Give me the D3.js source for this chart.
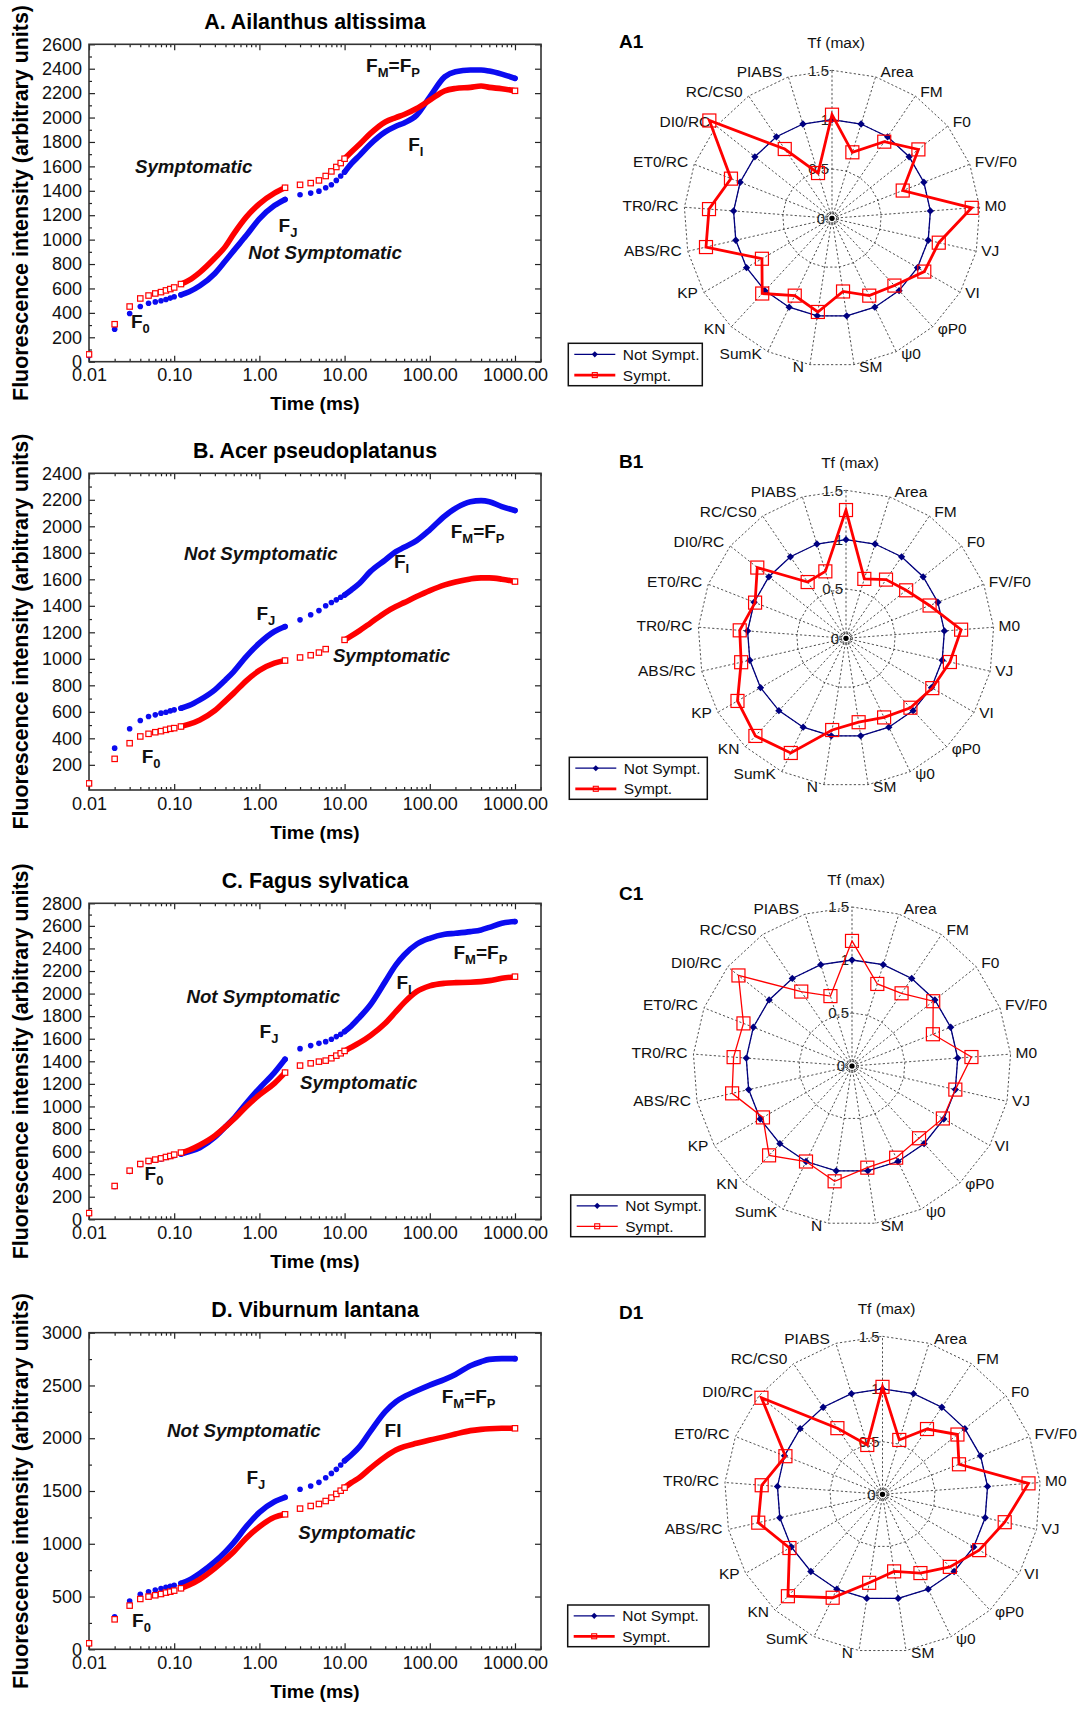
<!DOCTYPE html>
<html>
<head>
<meta charset="utf-8">
<script src="https://cdn.jsdelivr.net/npm/d3@7"></script>
<style>
  body { margin: 0; background: #fff; }
  svg text { font-family: "Liberation Sans", Arial, Helvetica, sans-serif; }
</style>
</head>
<body>
<svg id="fig" width="1089" height="1709"></svg>
<script>
// ---- OJIP transients: time (ms) and fluorescence ----
const times = [0.01, 0.02, 0.03, 0.04, 0.05, 0.06, 0.07, 0.08, 0.09, 0.1, 0.12, 0.15, 0.2, 0.3, 0.4, 0.5, 0.7, 1, 1.5, 2,
  3, 4, 5, 6, 7, 8, 9, 10, 12, 15, 20, 30, 40, 50, 70, 100, 150, 200, 300, 400, 500, 700, 1000];

const aNot = [50, 266, 395, 452, 479, 490, 499, 510, 521, 532, 548, 573, 622, 723, 827, 910, 1033, 1170, 1279, 1329,
  1367, 1381, 1397, 1425, 1449, 1485, 1521, 1553, 1622, 1690, 1781, 1882, 1929, 1956, 2019, 2170, 2334, 2375, 2389, 2389, 2381, 2356, 2321];
const aSym = [60, 307, 452, 518, 542, 559, 570, 584, 595, 608, 636, 668, 732, 849, 945, 1047, 1184, 1293, 1381, 1425,
  1449, 1463, 1485, 1521, 1559, 1595, 1627, 1663, 1718, 1781, 1868, 1964, 2000, 2025, 2074, 2142, 2219, 2238, 2247, 2258, 2247, 2236, 2219];

const bNot = [60, 326, 472, 534, 565, 577, 590, 597, 607, 615, 627, 648, 690, 766, 841, 904, 1017, 1118, 1206, 1243,
  1294, 1332, 1364, 1400, 1425, 1445, 1465, 1482, 1520, 1570, 1658, 1746, 1809, 1842, 1892, 1973, 2078, 2136, 2186, 2194, 2186, 2149, 2119];
const bSym = [60, 245, 363, 414, 434, 446, 454, 464, 472, 477, 489, 507, 539, 610, 683, 741, 834, 912, 967, 987,
  1010, 1027, 1047, 1073, null, null, null, 1143, 1173, 1213, 1269, 1349, 1394, 1424, 1470, 1515, 1558, 1580, 1603, 1611, 1611, 1601, 1583];

const cNot = [55, 290, 425, 485, 512, 524, 535, 547, 556, 566, 579, 600, 635, 727, 821, 895, 1028, 1161, 1300, 1418,
  1512, 1539, 1559, 1574, 1595, 1619, 1639, 1663, 1713, 1790, 1899, 2106, 2254, 2342, 2437, 2490, 2525, 2534, 2549, 2564, 2587, 2623, 2638];
const cSym = [55, 295, 431, 490, 517, 529, 540, 552, 561, 573, 591, 614, 659, 741, 821, 886, 998, 1102, 1205, 1300,
  1362, 1382, 1397, 1406, 1427, 1450, 1471, 1492, 1524, 1565, 1627, 1737, 1840, 1920, 2017, 2068, 2091, 2097, 2100, 2106, 2115, 2135, 2150];

const dNot = [60, 309, 458, 521, 546, 562, 575, 587, 597, 606, 625, 657, 720, 830, 925, 1011, 1162, 1298, 1399, 1440,
  1516, 1547, 1582, 1626, 1667, 1705, 1746, 1787, 1841, 1920, 2062, 2252, 2346, 2394, 2450, 2504, 2558, 2605, 2687, 2725, 2747, 2754, 2754];
const dSym = [57, 284, 414, 477, 499, 512, 524, 537, 546, 556, 578, 609, 663, 767, 853, 925, 1052, 1162, 1251, 1279,
  1333, 1358, 1377, 1405, 1437, 1472, 1503, 1532, 1579, 1629, 1715, 1825, 1888, 1920, 1952, 1983, 2015, 2040, 2072, 2084, 2090, 2094, 2094];

const xTicks = [0.01, 0.1, 1, 10, 100, 1000];
const yTicksA = [0, 200, 400, 600, 800, 1000, 1200, 1400, 1600, 1800, 2000, 2200, 2400, 2600];
const yTicksB = [200, 400, 600, 800, 1000, 1200, 1400, 1600, 1800, 2000, 2200, 2400];
const yTicksC = [0, 200, 400, 600, 800, 1000, 1200, 1400, 1600, 1800, 2000, 2200, 2400, 2600, 2800];
const yTicksD = [0, 500, 1000, 1500, 2000, 2500, 3000];

// ---- radar plots: JIP-test parameters, Sympt. normalised to Not Sympt. ----
const radarAxes = ["Tf (max)", "Area", "FM", "F0", "FV/F0", "M0", "VJ", "VI", "\u03c6P0", "\u03c80", "SM", "N",
  "SumK", "KN", "KP", "ABS/RC", "TR0/RC", "ET0/RC", "DI0/RC", "RC/CS0", "PIABS"];
const notSympt = [1, 1, 1, 1, 1, 1, 1, 1, 1, 1, 1, 1, 1, 1, 1, 1, 1, 1, 1, 1, 1];
const a1Sym = [1.05, 0.70, 0.94, 1.12, 0.77, 1.42, 1.11, 1.08, 0.93, 0.87, 0.75, 0.96, 0.87, 1.04, 0.82, 1.31, 1.25, 1.10, 1.59, 0.85, 0.48];
const b1Sym = [1.30, 0.63, 0.72, 0.78, 0.91, 1.17, 1.08, 1.01, 0.96, 0.89, 0.86, 0.94, 1.29, 1.35, 1.27, 1.09, 1.08, 0.99, 1.15, 0.69, 0.71];
const c1Sym = [1.18, 0.81, 0.83, 0.98, 0.82, 1.13, 1.00, 0.99, 0.93, 0.96, 0.97, 1.10, 1.00, 1.15, 0.97, 1.16, 1.12, 1.10, 1.37, 0.85, 0.69];
const d1Sym = [1.02, 0.54, 0.75, 0.91, 0.78, 1.39, 1.19, 1.06, 0.94, 0.83, 0.74, 0.85, 1.09, 1.32, 1.02, 1.21, 1.15, 0.99, 1.47, 0.76, 0.49];
const ringValues = [0, 0.5, 1, 1.5];
const ringLabels = ["0", "0.5", "1", "1.5"];

const BLUE = "#0b0bf0";
const RED = "#ff0000";
const NAVY = "#000080";

const svg = d3.select("#fig");

// x scale shared by all four transient panels
const plotLeft = 89, plotRight = 541;
const x = d3.scaleLog().domain([0.01, 2020]).range([plotLeft, plotRight]);
const midX = 315;

const panels = [
  { id: "A", title: "A. Ailanthus altissima", titleY: 29.3, top: 44.3, bottom: 361.7, yDomain: [0, 2600], yTicks: yTicksA,
    not: aNot, sym: aSym,
    notes: [
      { x: 135, y: 172.7, parts: [["Symptomatic"]], italic: true },
      { x: 248.2, y: 259.3, parts: [["Not Symptomatic"]], italic: true },
      { x: 131, y: 328.3, parts: [["F"], ["0", 1]] },
      { x: 278.6, y: 231.7, parts: [["F"], ["J", 1]] },
      { x: 408.2, y: 150.7, parts: [["F"], ["I", 1]] },
      { x: 366.1, y: 71.7, parts: [["F"], ["M", 1], ["=F"], ["P", 1]] }
    ] },
  { id: "B", title: "B. Acer pseudoplatanus", titleY: 458.3, top: 473.3, bottom: 790, yDomain: [10, 2400], yTicks: yTicksB,
    not: bNot, sym: bSym,
    notes: [
      { x: 184, y: 560, parts: [["Not Symptomatic"]], italic: true },
      { x: 332.9, y: 661.7, parts: [["Symptomatic"]], italic: true },
      { x: 141.7, y: 763.3, parts: [["F"], ["0", 1]] },
      { x: 256.4, y: 620, parts: [["F"], ["J", 1]] },
      { x: 394, y: 568.3, parts: [["F"], ["I", 1]] },
      { x: 450.7, y: 538.3, parts: [["F"], ["M", 1], ["=F"], ["P", 1]] }
    ] },
  { id: "C", title: "C. Fagus sylvatica", titleY: 888.3, top: 903.3, bottom: 1219.3, yDomain: [0, 2800], yTicks: yTicksC,
    not: cNot, sym: cSym,
    notes: [
      { x: 186.4, y: 1003.3, parts: [["Not Symptomatic"]], italic: true },
      { x: 300, y: 1089.3, parts: [["Symptomatic"]], italic: true },
      { x: 144.6, y: 1180, parts: [["F"], ["0", 1]] },
      { x: 259.6, y: 1038.3, parts: [["F"], ["J", 1]] },
      { x: 396.4, y: 989.3, parts: [["F"], ["I", 1]] },
      { x: 453.5, y: 959.3, parts: [["F"], ["M", 1], ["=F"], ["P", 1]] }
    ] },
  { id: "D", title: "D. Viburnum lantana", titleY: 1317.3, top: 1332.7, bottom: 1649.3, yDomain: [0, 3000], yTicks: yTicksD,
    not: dNot, sym: dSym,
    notes: [
      { x: 167.1, y: 1436.7, parts: [["Not Symptomatic"]], italic: true },
      { x: 298.2, y: 1539.3, parts: [["Symptomatic"]], italic: true },
      { x: 132.1, y: 1626.7, parts: [["F"], ["0", 1]] },
      { x: 246.4, y: 1484, parts: [["F"], ["J", 1]] },
      { x: 384.6, y: 1436.7, parts: [["FI"]] },
      { x: 441.7, y: 1403.3, parts: [["F"], ["M", 1], ["=F"], ["P", 1]] }
    ] }
];

// segments where the instrument samples so densely that markers merge into a band
const denseRanges = [[0.12, 2], [10, 1000]];

function inDense(t) {
  return denseRanges.some(r => t > r[0] && t < r[1]);
}

panels.forEach(drawTransient);

function drawTransient(p) {
  const y = d3.scaleLinear().domain(p.yDomain).range([p.bottom, p.top]);
  const g = svg.append("g");

  g.append("clipPath").attr("id", "clip" + p.id)
    .append("rect")
    .attr("x", plotLeft - 3).attr("y", p.top)
    .attr("width", plotRight - plotLeft + 3).attr("height", p.bottom - p.top);

  // title
  g.append("text")
    .attr("x", midX).attr("y", p.titleY)
    .attr("text-anchor", "middle")
    .style("font-size", "21.4px").style("font-weight", "bold")
    .text(p.title);

  // axes (ticks point inward)
  const minor = x.ticks().filter(t => xTicks.indexOf(t) < 0);
  g.append("g").attr("transform", "translate(0," + p.bottom + ")")
    .call(d3.axisBottom(x).tickValues(xTicks).tickFormat(d3.format(".2f"))
      .tickSizeInner(-6).tickSizeOuter(0).tickPadding(7))
    .call(s => s.select(".domain").remove());
  g.append("g").attr("transform", "translate(0," + p.bottom + ")")
    .call(d3.axisBottom(x).tickValues(minor).tickFormat("").tickSizeInner(-3).tickSizeOuter(0))
    .call(s => s.select(".domain").remove());
  g.append("g").attr("transform", "translate(0," + p.top + ")")
    .call(d3.axisTop(x).tickValues(xTicks).tickFormat("").tickSizeInner(-6).tickSizeOuter(0))
    .call(s => s.select(".domain").remove());
  g.append("g").attr("transform", "translate(0," + p.top + ")")
    .call(d3.axisTop(x).tickValues(minor).tickFormat("").tickSizeInner(-3).tickSizeOuter(0))
    .call(s => s.select(".domain").remove());

  const step = p.yTicks[1] - p.yTicks[0];
  const yMinor = p.yTicks.map(v => v + step / 2).filter(v => v < p.yDomain[1]);
  g.append("g").attr("transform", "translate(" + plotLeft + ",0)")
    .call(d3.axisLeft(y).tickValues(p.yTicks).tickFormat(d3.format("d"))
      .tickSizeInner(-6).tickSizeOuter(0).tickPadding(7))
    .call(s => s.select(".domain").remove());
  g.append("g").attr("transform", "translate(" + plotLeft + ",0)")
    .call(d3.axisLeft(y).tickValues(yMinor).tickFormat("").tickSizeInner(-3).tickSizeOuter(0))
    .call(s => s.select(".domain").remove());
  g.append("g").attr("transform", "translate(" + plotRight + ",0)")
    .call(d3.axisRight(y).tickValues(p.yTicks).tickFormat("").tickSizeInner(-6).tickSizeOuter(0))
    .call(s => s.select(".domain").remove());

  g.selectAll(".tick line").attr("stroke", "#222").attr("stroke-width", 1.2);
  g.selectAll(".tick text")
    .style("font-size", "18px").style("font-family", "'Liberation Sans', Arial, sans-serif")
    .attr("fill", "#111");

  // frame
  g.append("rect")
    .attr("x", plotLeft).attr("y", p.top)
    .attr("width", plotRight - plotLeft).attr("height", p.bottom - p.top)
    .attr("fill", "none").attr("stroke", "#333").attr("stroke-width", 1.6);

  // axis titles
  g.append("text")
    .attr("transform", "translate(28," + ((p.top + p.bottom) / 2) + ") rotate(-90)")
    .attr("text-anchor", "middle")
    .style("font-size", "21.4px").style("font-weight", "bold")
    .text("Fluorescence intensity (arbitrary units)");
  g.append("text")
    .attr("x", midX).attr("y", p.bottom + 48.5)
    .attr("text-anchor", "middle")
    .style("font-size", "19px").style("font-weight", "bold")
    .text("Time (ms)");

  // data
  const plot = g.append("g").attr("clip-path", "url(#clip" + p.id + ")");
  drawSeries(plot, y, p.not, "not");
  drawSeries(plot, y, p.sym, "sym");

  // annotations
  p.notes.forEach(n => {
    const t = g.append("text")
      .attr("x", n.x).attr("y", n.y)
      .style("font-weight", "bold")
      .style("font-size", n.italic ? "18.7px" : "19px")
      .style("font-style", n.italic ? "italic" : "normal")
      .attr("fill", "#111");
    let prevSub = false;
    n.parts.forEach(part => {
      const sub = !!part[1];
      const ts = t.append("tspan").text(part[0]);
      if (sub) ts.attr("dy", 5).style("font-size", "13px");
      else if (prevSub) ts.attr("dy", -5);
      prevSub = sub;
    });
  });
}

function drawSeries(plot, y, values, kind) {
  const color = kind === "not" ? BLUE : RED;
  const pts = times.map((t, i) => ({ t: t, v: values[i] })).filter(d => d.v !== null);

  const line = d3.line()
    .x(d => x(d.t)).y(d => y(d.v))
    .curve(d3.curveMonotoneX);

  denseRanges.forEach(r => {
    const seg = pts.filter(d => d.t >= r[0] && d.t <= r[1]);
    plot.append("path")
      .attr("d", line(seg))
      .attr("fill", "none")
      .attr("stroke", color)
      .attr("stroke-width", 5.6)
      .attr("stroke-linecap", "round");
  });

  const shown = pts.filter(d => !inDense(d.t));
  if (kind === "not") {
    plot.selectAll(null).data(shown).join("circle")
      .attr("cx", d => x(d.t)).attr("cy", d => y(d.v))
      .attr("r", 2.8)
      .attr("fill", color);
  } else {
    plot.selectAll(null).data(shown).join("rect")
      .attr("x", d => x(d.t) - 2.7).attr("y", d => y(d.v) - 2.7)
      .attr("width", 5.4).attr("height", 5.4)
      .attr("fill", "#fff")
      .attr("stroke", color).attr("stroke-width", 1.2);
  }
}

// ---- radar panels ----
const radars = [
  { id: "A1", cx: 832, cy: 218.3, R: 148, sym: a1Sym, lw: 2.8, labelY: 48.3,
    legend: { x: 568.3, y: 343.3, w: 134, h: 42.4 } },
  { id: "B1", cx: 846, cy: 638.3, R: 148, sym: b1Sym, lw: 2.8, labelY: 468.3,
    legend: { x: 569.3, y: 757.3, w: 138, h: 42 } },
  { id: "C1", cx: 852, cy: 1066, R: 159, sym: c1Sym, lw: 1.3, labelY: 900,
    legend: { x: 570.7, y: 1195, w: 134.3, h: 41.7 } },
  { id: "D1", cx: 882.5, cy: 1494.3, R: 158, sym: d1Sym, lw: 2.8, labelY: 1319.3,
    legend: { x: 567.7, y: 1605, w: 141.3, h: 41.7 } }
];

radars.forEach(drawRadar);

function drawRadar(p) {
  const n = radarAxes.length;
  const stepA = 2 * Math.PI / n;
  const r = d3.scaleLinear().domain([0, 1.5]).range([0, p.R]);
  const g = svg.append("g").attr("transform", "translate(" + p.cx + "," + p.cy + ")");

  const polar = d3.lineRadial()
    .angle((d, i) => i * stepA)
    .radius(d => r(d))
    .curve(d3.curveLinearClosed);

  // grid rings (0.5, 1, 1.5) and spokes
  ringValues.filter(v => v > 0).forEach(v => {
    g.append("path")
      .attr("d", polar(radarAxes.map(() => v)))
      .attr("fill", "none").attr("stroke", "#222")
      .attr("stroke-width", 0.8).attr("stroke-dasharray", "2.2,2.2");
  });
  g.selectAll(null).data(radarAxes).join("line")
    .attr("x1", 0).attr("y1", 0)
    .attr("x2", (d, i) => r(1.5) * Math.sin(i * stepA))
    .attr("y2", (d, i) => -r(1.5) * Math.cos(i * stepA))
    .attr("stroke", "#222").attr("stroke-width", 0.8).attr("stroke-dasharray", "2.2,2.2");
  [6.5, 4.5].forEach(rr => {
    g.append("circle").attr("r", rr).attr("fill", "none")
      .attr("stroke", "#222").attr("stroke-width", 0.8).attr("stroke-dasharray", "1.5,1.5");
  });
  g.append("circle").attr("r", 2.6).attr("fill", "#000");

  // ring value labels
  g.selectAll(null).data(ringValues).join("text")
    .attr("x", d => d === 0 ? -7 : -3)
    .attr("y", d => -r(d))
    .attr("dy", "0.35em")
    .attr("text-anchor", "end")
    .style("font-size", "15px")
    .attr("fill", "#222")
    .text((d, i) => ringLabels[i]);

  // axis labels
  g.selectAll(null).data(radarAxes).join("text")
    .each(function (d, i) {
      const a = i * stepA;
      const s = Math.sin(a), c = Math.cos(a);
      const el = d3.select(this);
      if (i === 0) {
        el.attr("x", 4).attr("y", -r(1.5) - 22).attr("text-anchor", "middle");
      } else {
        const ex = r(1.5) * s, ey = -r(1.5) * c;
        el.attr("x", ex + (s > 0 ? 5 : -6)).attr("y", ey)
          .attr("dy", (0.25 * (1 - c)).toFixed(3) + "em")
          .attr("text-anchor", s > 0 ? "start" : "end");
      }
    })
    .style("font-size", "15.5px")
    .attr("fill", "#111")
    .text(d => d);

  const pt = (v, i) => [r(v) * Math.sin(i * stepA), -r(v) * Math.cos(i * stepA)];

  // Not Sympt.
  g.append("path")
    .attr("d", polar(notSympt))
    .attr("fill", "none").attr("stroke", NAVY).attr("stroke-width", 1.3);
  g.selectAll(null).data(notSympt).join("path")
    .attr("transform", (d, i) => "translate(" + pt(d, i) + ")")
    .attr("d", d3.symbol(d3.symbolDiamond2, 34))
    .attr("fill", NAVY);

  // Sympt.
  g.append("path")
    .attr("d", polar(p.sym))
    .attr("fill", "none").attr("stroke", RED).attr("stroke-width", p.lw)
    .attr("stroke-linejoin", "miter");
  g.selectAll(null).data(p.sym).join("rect")
    .attr("x", (d, i) => pt(d, i)[0] - 6.5)
    .attr("y", (d, i) => pt(d, i)[1] - 6.5)
    .attr("width", 13).attr("height", 13)
    .attr("fill", "none").attr("stroke", RED).attr("stroke-width", 1.2);

  // panel label
  svg.append("text")
    .attr("x", 619).attr("y", p.labelY)
    .style("font-size", "19px").style("font-weight", "bold")
    .text(p.id);

  // legend
  const L = p.legend;
  const lg = svg.append("g").attr("transform", "translate(" + L.x + "," + L.y + ")");
  lg.append("rect").attr("width", L.w).attr("height", L.h)
    .attr("fill", "#fff").attr("stroke", "#111").attr("stroke-width", 1.5);
  const rows = [
    { label: "Not Sympt.", color: NAVY, lw: 1.3, yy: L.h * 0.26 },
    { label: "Sympt.", color: RED, lw: p.lw, yy: L.h * 0.75 }
  ];
  rows.forEach((row, k) => {
    lg.append("line").attr("x1", 6).attr("x2", 47).attr("y1", row.yy).attr("y2", row.yy)
      .attr("stroke", row.color).attr("stroke-width", row.lw);
    if (k === 0) {
      lg.append("path").attr("transform", "translate(26.5," + row.yy + ")")
        .attr("d", d3.symbol(d3.symbolDiamond2, 24)).attr("fill", NAVY);
    } else {
      lg.append("rect").attr("x", 24).attr("y", row.yy - 2.5).attr("width", 5).attr("height", 5)
        .attr("fill", "none").attr("stroke", RED).attr("stroke-width", 1.1);
    }
    lg.append("text").attr("x", 54.5).attr("y", row.yy).attr("dy", "0.35em")
      .style("font-size", "15.5px").attr("fill", "#111")
      .text(row.label);
  });
}
</script>
</body>
</html>
